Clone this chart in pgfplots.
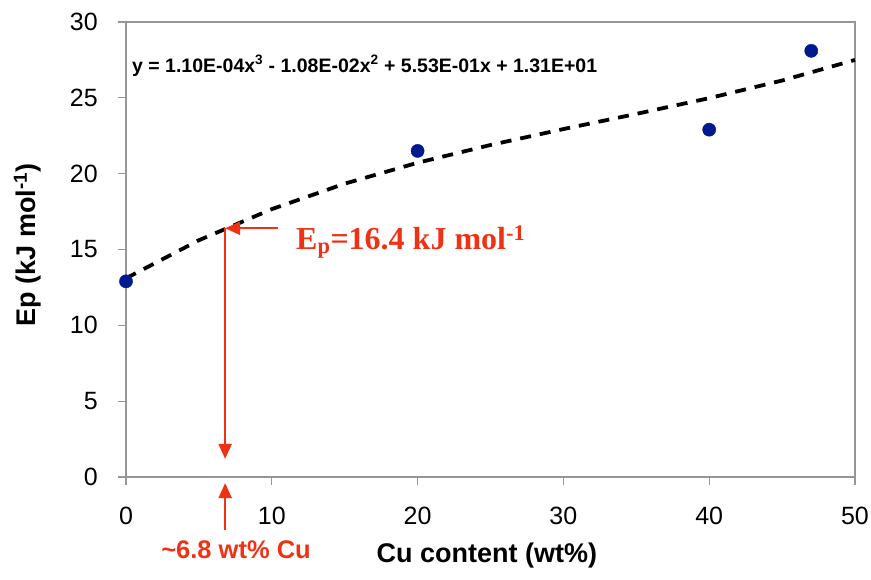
\documentclass[border=0pt]{standalone}
\usepackage{pgfplots}
\pgfplotsset{compat=1.18}
\usetikzlibrary{arrows.meta}
\usepackage{fontspec}
\setmainfont{Liberation Sans}
\newfontfamily\timesfont{Liberation Serif}
\definecolor{annred}{RGB}{240,50,20}
\definecolor{ptblue}{RGB}{0,25,145}
\definecolor{axgray}{RGB}{150,150,150}
\begin{document}
\begin{tikzpicture}
\begin{axis}[
  width=729pt, height=455pt, scale only axis,
  xmin=0, xmax=50, ymin=0, ymax=30,
  xtick={0,10,...,50}, ytick={0,5,...,30},
  xtick pos=bottom, ytick pos=left,
  tick align=outside, major tick length=8pt,
  axis line style={draw=axgray, line width=1.4pt},
  tick style={draw=axgray, line width=1.2pt},
  /pgf/number format/assume math mode=true,
  tick label style={font=\fontsize{25}{29}\selectfont, inner sep=0pt},
  xticklabel shift=22pt, yticklabel shift=20pt,
  label style={font=\fontsize{27}{31}\selectfont\bfseries},
  xlabel={Cu content (wt\%)},
  ylabel={Ep (kJ mol\textsuperscript{-1})},
  xlabel style={at={(axis description cs:0.495,-0.187)}, anchor=base},
  ylabel style={at={(axis description cs:-0.135,0.51)}, anchor=center, rotate=0},
  clip=false,
]
% polynomial trend line (values computed at 5 wt% steps)
\addplot[black, line width=3.8pt, dash pattern=on 11pt off 9pt] coordinates {
  (0,13.10) (5,15.61) (10,17.66) (15,19.34) (20,20.72) (25,21.89)
  (30,22.94) (35,23.94) (40,24.98) (45,26.14) (50,27.50)};
% measured points
\addplot[only marks, mark=*, mark size=6.6pt, mark options={fill=ptblue, draw=ptblue}] coordinates {
  (0,12.9) (20,21.5) (40,22.9) (47,28.1)};

\node[anchor=base west, inner sep=0pt, font=\fontsize{19.5}{23}\selectfont\bfseries] at (axis cs:0.41,26.7)
  {y = 1.10E-04x\textsuperscript{3} - 1.08E-02x\textsuperscript{2} + 5.53E-01x + 1.31E+01};

\draw[annred, line width=2.2pt, -{Triangle[length=15pt, width=13pt]}] (axis cs:10.4,16.4) -- (axis cs:6.8,16.4);
\draw[annred, line width=2.2pt, -{Triangle[length=15pt, width=13pt]}] (axis cs:6.8,16.4) -- (axis cs:6.8,1.19);
\draw[annred, line width=2.2pt, -{Triangle[length=15pt, width=13pt]}] (axis cs:6.8,-3.5) -- (axis cs:6.8,-0.4);

\node[anchor=base west, text=annred, font=\timesfont\fontsize{32}{36}\selectfont\bfseries, inner sep=0pt] at (axis cs:11.66,15.0)
  {E\textsubscript{p}=16.4 kJ mol\textsuperscript{-1}};
\node[anchor=base, text=annred, font=\fontsize{25.5}{29}\selectfont\bfseries, inner sep=0pt] at (axis cs:7.55,-5.35)
  {\char`\~6.8 wt\% Cu};
\end{axis}
\pgfresetboundingbox
\path (-126pt,-103pt) rectangle (745pt,477pt);
\end{tikzpicture}
\end{document}
